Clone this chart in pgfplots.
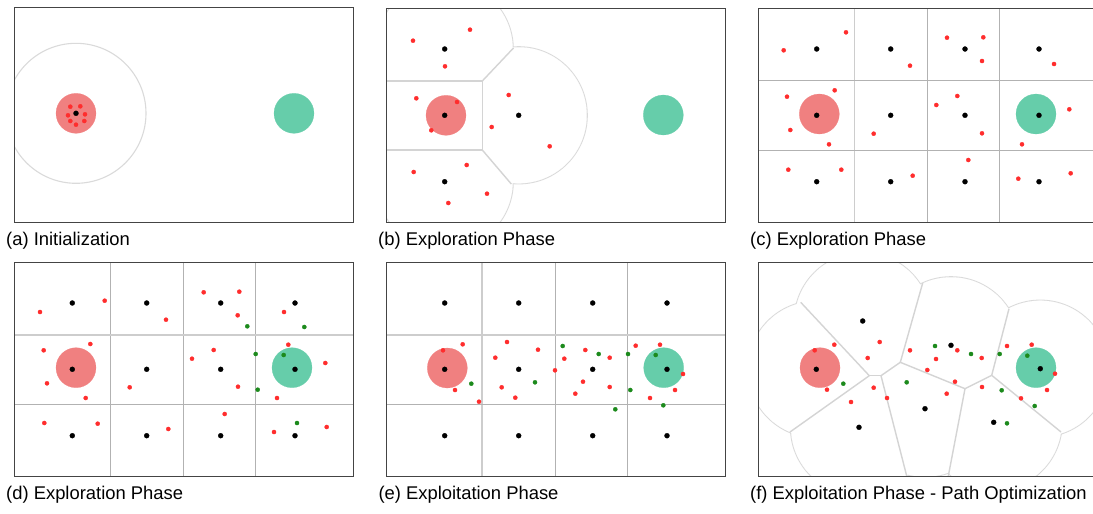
\documentclass[border=0pt]{standalone}
\usepackage{pgfplots}
\pgfplotsset{compat=1.18}
\usepackage{fontspec}
\setmainfont{Liberation Sans}
\definecolor{startc}{RGB}{240,128,128}
\definecolor{goalc}{RGB}{102,205,170}
\definecolor{dotred}{RGB}{255,45,45}
\definecolor{dotgreen}{RGB}{28,138,28}
\definecolor{framec}{RGB}{68,68,68}
\definecolor{gridc}{RGB}{178,178,178}
\definecolor{gridl}{RGB}{205,205,205}
\definecolor{vor}{RGB}{218,218,218}
\definecolor{voredge}{RGB}{212,212,212}
\pgfplotsset{
 panel/.style={x=1pt,y=1pt,y dir=reverse,axis on top,anchor=north west,
   xtick=\empty,ytick=\empty,axis line style={framec,line width=1pt},clip=true,clip marker paths=true},
 blk/.style={only marks,mark=*,mark size=2.5pt,mark options={draw=black,line width=0.3pt,line join=round,fill=black}},
 rdot/.style={only marks,mark=*,mark size=2.1pt,mark options={draw=dotred,line width=0.3pt,line join=round,fill=dotred}},
 gdot/.style={only marks,mark=*,mark size=2.1pt,mark options={draw=dotgreen,line width=0.3pt,line join=round,fill=dotgreen}},
 startp/.style={only marks,mark=*,mark size=20pt,mark options={draw=startc,line width=0.2pt,fill=startc}},
 goalp/.style={only marks,mark=*,mark size=20pt,mark options={draw=goalc,line width=0.2pt,fill=goalc}},
 gl/.style={gridc,line width=1pt},
 gll/.style={gridl,line width=1.6pt},
 ve/.style={voredge,line width=1.4pt},
 ring/.style={only marks,mark=o,mark size=68pt,mark options={draw=vor,line width=2.2pt,fill=none}},
 disk/.style={only marks,mark=*,mark size=68pt,mark options={draw=white,line width=0.1pt,fill=white}},
}
\begin{document}
\begin{tikzpicture}
\useasboundingbox (0pt,0pt) rectangle (1093pt,-514pt);
% ---------------- (a)
\begin{axis}[panel,at={(14.3pt,-7.3pt)},xmin=14.3,xmax=353.3,ymin=7.3,ymax=222]
\addplot[only marks,mark=o,mark size=70pt,mark options={draw=vor,line width=1.1pt,fill=none}] coordinates {(76,113.3)};
\addplot[startp] coordinates {(76,113.3)};
\addplot[goalp] coordinates {(294,113.3)};
\addplot[rdot] coordinates {(70.3,106.7)(80.3,106.3)(68,115.3)(85,114.3)(70.3,121)(84.3,121)(76,124.7)};
\addplot[blk] coordinates {(76,113.3)};
\end{axis}
% ---------------- (b)
\begin{axis}[panel,at={(386.3pt,-8pt)},xmin=386.3,xmax=725.7,ymin=8,ymax=222]
\addplot[ring] coordinates {(444.7,49)(444.7,115.3)(444.7,181.7)(518.7,115.3)};
\addplot[disk] coordinates {(444.7,49)(444.7,115.3)(444.7,181.7)(518.7,115.3)};
\addplot[ve] coordinates {(386.3,81)(482.3,81)};
\addplot[ve] coordinates {(482.3,81)(482.3,150)};
\addplot[ve] coordinates {(386.3,150)(482.3,150)};
\addplot[ve] coordinates {(482.3,81)(513.5,48)};
\addplot[ve] coordinates {(482.3,150)(511.3,184)};
\addplot[startp] coordinates {(446,115.3)};
\addplot[goalp] coordinates {(663.3,115)};
\addplot[rdot] coordinates {(470,29.7)(413,40.7)(445,66.3)(416.3,98.3)(457,102)(431.3,130.3)(508.7,95)(491.7,127)(549.7,146.3)(466.7,165)(413.7,172)(487,193.7)(448.3,203)};
\addplot[blk] coordinates {(444.7,49)(444.7,115.3)(444.7,181.7)(518.7,115.3)};
\end{axis}
% ---------------- (c)
\begin{axis}[panel,at={(758.3pt,-8pt)},xmin=758.3,xmax=1097.3,ymin=8,ymax=222]
\addplot[gll] coordinates {(854.3,0)(854.3,300)};
\addplot[gl] coordinates {(927.7,0)(927.7,300)};
\addplot[gl] coordinates {(999.3,0)(999.3,300)};
\addplot[gl] coordinates {(700,80.3)(1100,80.3)};
\addplot[gl] coordinates {(700,150.3)(1100,150.3)};
\addplot[startp] coordinates {(819.3,114)};
\addplot[goalp] coordinates {(1036,114)};
\addplot[rdot] coordinates {(846,32.3)(783.7,50.3)(910,65.7)(947,37.7)(983.3,37.3)(982,61)(1054,64)(787,96.7)(834.7,90.3)(790.3,130)(829,144.3)(873.7,133.7)(957.3,96)(936.3,105)(982,133.3)(1069.3,109.3)(1022,144.3)(788.3,169.7)(841.3,169.7)(912.7,175.7)(968.3,160)(1018.3,178.7)(1070.7,173.3)};
\addplot[blk] coordinates {(816.7,49)(890.7,49)(965,49)(1039,49)(816.7,115.3)(890.7,115.3)(965,115.3)(1039,115.3)(816.7,181.7)(890.7,181.7)(965,181.7)(1039,181.7)};
\end{axis}
% ---------------- (d)
\begin{axis}[panel,at={(14.3pt,-262.3pt)},xmin=14.3,xmax=353.3,ymin=262.3,ymax=476]
\addplot[gl] coordinates {(110.3,200)(110.3,500)};
\addplot[gl] coordinates {(183.3,200)(183.3,500)};
\addplot[gl] coordinates {(255.3,200)(255.3,500)};
\addplot[gll] coordinates {(0,335)(400,335)};
\addplot[gl] coordinates {(0,404.3)(400,404.3)};
\addplot[startp] coordinates {(76,367.7)};
\addplot[goalp] coordinates {(292,367.7)};
\addplot[rdot] coordinates {(104.7,300.7)(40,312)(166,319.7)(203.7,292.3)(239.3,291.7)(237.7,315.3)(284,312)(43.7,350.3)(90.3,344)(47,383.3)(85.7,398)(129.7,387.3)(192,358.7)(213.7,350)(238,386.7)(288.3,344.7)(325.3,363)(277,398)(44.3,423)(97.7,423.7)(168.3,429)(224.7,414)(274,432)(326.7,427)};
\addplot[gdot] coordinates {(247.3,326.3)(304.3,327)(255.7,354)(283.7,355)(257.7,389.7)(297,423)};
\addplot[blk] coordinates {(72.3,303)(146.7,303)(220.7,303)(295,303)(72.3,369.3)(146.7,369.3)(220.7,369.3)(295,369.3)(72.3,435.7)(146.7,435.7)(220.7,435.7)(295,435.7)};
\end{axis}
% ---------------- (e)
\begin{axis}[panel,at={(386.3pt,-262.7pt)},xmin=386.3,xmax=725.7,ymin=262.7,ymax=476]
\addplot[gll] coordinates {(482,200)(482,500)};
\addplot[gl] coordinates {(555.3,200)(555.3,500)};
\addplot[gl] coordinates {(627,200)(627,500)};
\addplot[gll] coordinates {(300,335)(800,335)};
\addplot[gl] coordinates {(300,404.3)(800,404.3)};
\addplot[startp] coordinates {(447.3,368)};
\addplot[goalp] coordinates {(663.7,367.7)};
\addplot[rdot] coordinates {(462.7,344.3)(443,350.3)(455,390)(479,401.7)(507,342)(495.3,357.7)(501.7,387.3)(515.3,397.7)(538,349.7)(555,370.3)(564.3,358.7)(585.3,350)(583,381.7)(575.3,393.7)(609.7,357.7)(609.7,387)(635.7,345.7)(660,344.7)(683,374)(675,390)(650,398)};
\addplot[gdot] coordinates {(471.3,383.7)(535,382.3)(562.7,346)(598.7,354)(628,354)(630.3,390)(615.3,409.3)(655.7,355)(663.3,405.3)};
\addplot[blk] coordinates {(444.7,303)(518.7,303)(592.7,303)(667,303)(444.7,369.3)(518.7,369.3)(592.7,369.3)(667,369.3)(444.7,435.7)(518.7,435.7)(592.7,435.7)(667,435.7)};
\end{axis}
% ---------------- (f)
\begin{axis}[panel,at={(758.3pt,-262.7pt)},xmin=758.3,xmax=1097.3,ymin=262.7,ymax=476]
\addplot[ring] coordinates {(816.3,369.3)(862.7,321)(859,427.3)(951,345.3)(925,408.7)(993.7,422.3)(1040.3,368.7)};
\addplot[disk] coordinates {(816.3,369.3)(862.7,321)(859,427.3)(951,345.3)(925,408.7)(993.7,422.3)(1040.3,368.7)};
\addplot[ve] coordinates {(800.7,302.3)(869.3,375.7)};
\addplot[ve] coordinates {(869.3,375.7)(790,432)};
\addplot[ve] coordinates {(869.3,375.7)(881,375.7)};
\addplot[ve] coordinates {(881,375.7)(900.3,362.3)};
\addplot[ve] coordinates {(900.3,362.3)(922.7,283)};
\addplot[ve] coordinates {(900.3,362.3)(965,388.7)};
\addplot[ve] coordinates {(881,375.7)(906.7,476)};
\addplot[ve] coordinates {(965,388.7)(991.7,375.3)};
\addplot[ve] coordinates {(991.7,375.3)(1009,308.7)};
\addplot[ve] coordinates {(991.7,375.3)(1061,432)};
\addplot[ve] coordinates {(965,388.7)(948.3,476)};
\addplot[startp] coordinates {(820,367.7)};
\addplot[goalp] coordinates {(1036,367.7)};
\addplot[rdot] coordinates {(834.3,344.7)(814.7,350.3)(827,389.7)(851,402)(879.7,342)(867.7,358)(873.7,387.7)(887,398)(910,350.3)(927.3,370)(936,359)(957.3,350.3)(955,381.7)(946.7,393.7)(981.7,358)(982,387)(1007,346)(1031.7,344.7)(1055,373.7)(1047,390)(1021,398.3)};
\addplot[gdot] coordinates {(843.3,383.7)(906.7,382.3)(935,346)(971,354)(999.7,354)(1001.7,390.3)(1007,423.3)(1027.3,355.7)(1034.7,406)};
\addplot[blk] coordinates {(816.3,369.3)(862.7,321)(859,427.3)(951,345.3)(925,408.7)(993.7,422.3)(1040.3,368.7)};
\end{axis}
% ---------------- captions
\begin{scope}[every node/.style={anchor=base west,inner sep=0pt,font=\fontsize{18.4}{22}\selectfont}]
\node at (6pt,-245pt) {(a) Initialization};
\node at (378pt,-245pt) {(b) Exploration Phase};
\node at (750pt,-245pt) {(c) Exploration Phase};
\node at (6pt,-499pt) {(d) Exploration Phase};
\node at (378.3pt,-499pt) {(e) Exploitation Phase};
\node at (750pt,-499pt) {(f) Exploitation Phase - Path Optimization};
\end{scope}
\end{tikzpicture}
\end{document}
